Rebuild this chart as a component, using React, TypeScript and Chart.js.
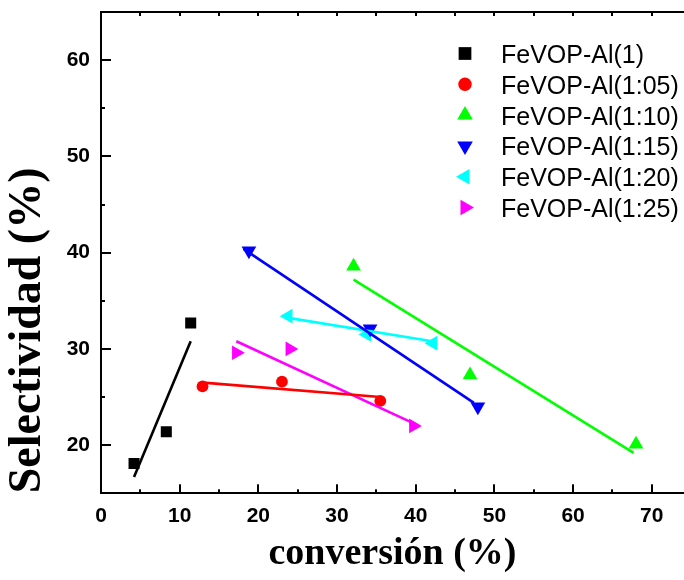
import React, { useEffect, useRef } from "react";
import { Chart, registerables } from "chart.js";

Chart.register(...registerables);

// ---- Data ----
const seriesLabels = [
  "FeVOP-Al(1)",
  "FeVOP-Al(1:05)",
  "FeVOP-Al(1:10)",
  "FeVOP-Al(1:15)",
  "FeVOP-Al(1:20)",
  "FeVOP-Al(1:25)",
];
const seriesColors = ["#000000", "#ff0000", "#00ff00", "#0000ff", "#00ffff", "#ff00ff"];
const markerStyles = ["rect", "circle", "triangle", "triangle", "triangle", "triangle"];
const markerRotations = [0, 0, 0, 180, -90, 90];

// conversión (%) / Selectividad (%)
const convAl1 = [4.2, 8.3, 11.4];
const selAl1 = [18.1, 21.4, 32.7];
const convAl105 = [12.9, 23.0, 35.5];
const selAl105 = [26.1, 26.6, 24.6];
const convAl110 = [32.1, 46.9, 68.0];
const selAl110 = [38.6, 27.3, 20.1];
const convAl115 = [18.8, 34.2, 47.9];
const selAl115 = [40.2, 32.1, 24.0];
const convAl120 = [23.8, 33.8, 42.2];
const selAl120 = [33.4, 31.5, 30.6];
const convAl125 = [17.2, 24.0, 39.7];
const selAl125 = [29.6, 30.0, 22.0];

// linear fit segments (endpoints)
const fitConvAl1 = [4.2, 11.4];
const fitSelAl1 = [16.7, 30.8];
const fitConvAl105 = [13.0, 35.5];
const fitSelAl105 = [26.5, 25.0];
const fitConvAl110 = [32.1, 67.7];
const fitSelAl110 = [37.2, 19.2];
const fitConvAl115 = [18.1, 47.4];
const fitSelAl115 = [40.4, 24.4];
const fitConvAl120 = [24.0, 42.1];
const fitSelAl120 = [33.2, 30.8];
const fitConvAl125 = [17.2, 39.4];
const fitSelAl125 = [30.8, 22.4];

const xTickValues = [0, 5, 10, 15, 20, 25, 30, 35, 40, 45, 50, 55, 60, 65, 70];
const yTickValues = [15, 20, 25, 30, 35, 40, 45, 50, 55, 60, 65];

const pointSets = [
  [convAl1, selAl1],
  [convAl105, selAl105],
  [convAl110, selAl110],
  [convAl115, selAl115],
  [convAl120, selAl120],
  [convAl125, selAl125],
];
const fitSets = [
  [fitConvAl1, fitSelAl1],
  [fitConvAl105, fitSelAl105],
  [fitConvAl110, fitSelAl110],
  [fitConvAl115, fitSelAl115],
  [fitConvAl120, fitSelAl120],
  [fitConvAl125, fitSelAl125],
];

const toXY = (xs: number[], ys: number[]) => xs.map((x, i) => ({ x, y: ys[i] }));

function drawMarker(ctx: CanvasRenderingContext2D, style: string, rotDeg: number, x: number, y: number, r: number, color: string) {
  ctx.save();
  ctx.fillStyle = color;
  ctx.beginPath();
  if (style === "rect") {
    const s = Math.SQRT1_2 * r;
    ctx.rect(x - s, y - s, 2 * s, 2 * s);
  } else if (style === "circle") {
    ctx.arc(x, y, r, 0, Math.PI * 2);
  } else {
    let rad = (rotDeg * Math.PI) / 180;
    ctx.moveTo(x + Math.sin(rad) * r, y - Math.cos(rad) * r);
    rad += (2 * Math.PI) / 3;
    ctx.lineTo(x + Math.sin(rad) * r, y - Math.cos(rad) * r);
    rad += (2 * Math.PI) / 3;
    ctx.lineTo(x + Math.sin(rad) * r, y - Math.cos(rad) * r);
    ctx.closePath();
  }
  ctx.fill();
  ctx.restore();
}

const framePlugin = {
  id: "axisFrame",
  afterDraw(chart: any) {
    const ctx: CanvasRenderingContext2D = chart.ctx;
    const ca = chart.chartArea;
    const xs = chart.scales.x;
    const ys = chart.scales.y;
    ctx.save();
    ctx.fillStyle = "#000";
    ctx.fillRect(ca.left - 1, ca.top - 1, ca.right - ca.left + 1, 2);
    for (const v of xTickValues) {
      const px = Math.round(xs.getPixelForValue(v));
      const len = v % 10 === 0 ? 9 : 4;
      ctx.fillRect(px - 1, ca.bottom - len, 2, len);
      ctx.fillRect(px - 1, ca.top, 2, 4);
    }
    for (const v of yTickValues) {
      const py = Math.round(ys.getPixelForValue(v));
      const len = v % 10 === 0 ? 10 : 4;
      ctx.fillRect(ca.left, py - 1, len, 2);
    }
    ctx.restore();
  },
};

const legendPlugin = {
  id: "insideLegend",
  afterDraw(chart: any) {
    const ctx: CanvasRenderingContext2D = chart.ctx;
    const mx = 465;
    const tx = 501;
    const y0 = 53.5;
    const step = 30.8;
    ctx.save();
    ctx.font = '25px "Liberation Sans", Arial, sans-serif';
    ctx.fillStyle = "#000";
    ctx.textAlign = "left";
    ctx.textBaseline = "alphabetic";
    seriesLabels.forEach((label, i) => {
      const cy = y0 + i * step;
      const r = markerStyles[i] === "circle" ? 6.7 : 9;
      drawMarker(ctx, markerStyles[i], markerRotations[i], mx, cy, r, seriesColors[i]);
      ctx.fillText(label, tx, cy + 9.5);
    });
    ctx.restore();
  },
};

export default function App() {
  const ref = useRef<HTMLCanvasElement | null>(null);

  useEffect(() => {
    if (!ref.current) return;
    const datasets: any[] = [];
    fitSets.forEach(([fx, fy], i) => {
      datasets.push({
        label: seriesLabels[i] + " fit",
        data: toXY(fx, fy),
        showLine: true,
        borderColor: seriesColors[i],
        borderWidth: 2.6,
        pointRadius: 0,
        pointHoverRadius: 0,
        fill: false,
      });
    });
    pointSets.forEach(([px, py], i) => {
      datasets.push({
        label: seriesLabels[i],
        data: toXY(px, py),
        showLine: false,
        backgroundColor: seriesColors[i],
        borderColor: seriesColors[i],
        pointStyle: markerStyles[i],
        rotation: markerRotations[i],
        pointRadius: markerStyles[i] === "rect" ? 7.8 : markerStyles[i] === "circle" ? 5.9 : 8.5,
        pointBorderWidth: 0,
        borderWidth: 0,
      });
    });

    const chart = new Chart(ref.current, {
      type: "scatter",
      data: { datasets },
      options: {
        responsive: false,
        animation: false,
        devicePixelRatio: 1,
        layout: { autoPadding: false, padding: { top: 12, left: 0, right: 0, bottom: 0 } },
        plugins: { legend: { display: false }, tooltip: { enabled: false } },
        scales: {
          x: {
            type: "linear",
            min: 0,
            max: 74.1,
            afterBuildTicks: (scale: any) => {
              scale.ticks = xTickValues.map((v) => ({ value: v }));
            },
            afterFit: (scale: any) => {
              scale.height = 86.7;
              scale.paddingLeft = 0;
              scale.paddingRight = 0;
            },
            grid: { display: true, drawOnChartArea: false, drawTicks: false },
            border: { display: true, color: "#000", width: 2 },
            ticks: {
              padding: 10,
              color: "#000",
              maxRotation: 0,
              autoSkip: false,
              font: { family: '"Liberation Sans", Arial, sans-serif', size: 21, weight: "bold" },
              callback: (v: any) => (Number(v) % 10 === 0 ? String(v) : null),
            },
            title: {
              display: true,
              text: "conversión (%)",
              color: "#000",
              padding: { top: 4, bottom: 3 },
              font: { family: '"Liberation Serif", "Times New Roman", serif', size: 38, weight: "bold" },
            },
          },
          y: {
            type: "linear",
            min: 15,
            max: 65,
            afterBuildTicks: (scale: any) => {
              scale.ticks = yTickValues.map((v) => ({ value: v }));
            },
            afterFit: (scale: any) => {
              scale.width = 101;
              scale.paddingTop = 0;
              scale.paddingBottom = 0;
            },
            grid: { display: true, drawOnChartArea: false, drawTicks: false },
            border: { display: true, color: "#000", width: 2 },
            ticks: {
              padding: 11,
              color: "#000",
              autoSkip: false,
              font: { family: '"Liberation Sans", Arial, sans-serif', size: 21, weight: "bold" },
              callback: (v: any) => (Number(v) % 10 === 0 ? String(v) : null),
            },
            title: {
              display: true,
              text: "Selectividad (%)",
              align: "start",
              color: "#000",
              padding: { top: 1, bottom: 0 },
              font: { family: '"Liberation Serif", "Times New Roman", serif', size: 46, weight: "bold" },
            },
          },
        },
      },
      plugins: [framePlugin, legendPlugin],
    } as any);

    return () => chart.destroy();
  }, []);

  return (
    <div style={{ position: "fixed", left: 0, top: 0, width: 684, height: 580, background: "#fff" }}>
      <canvas ref={ref} width={684} height={580} style={{ display: "block", width: 684, height: 580 }} />
    </div>
  );
}
